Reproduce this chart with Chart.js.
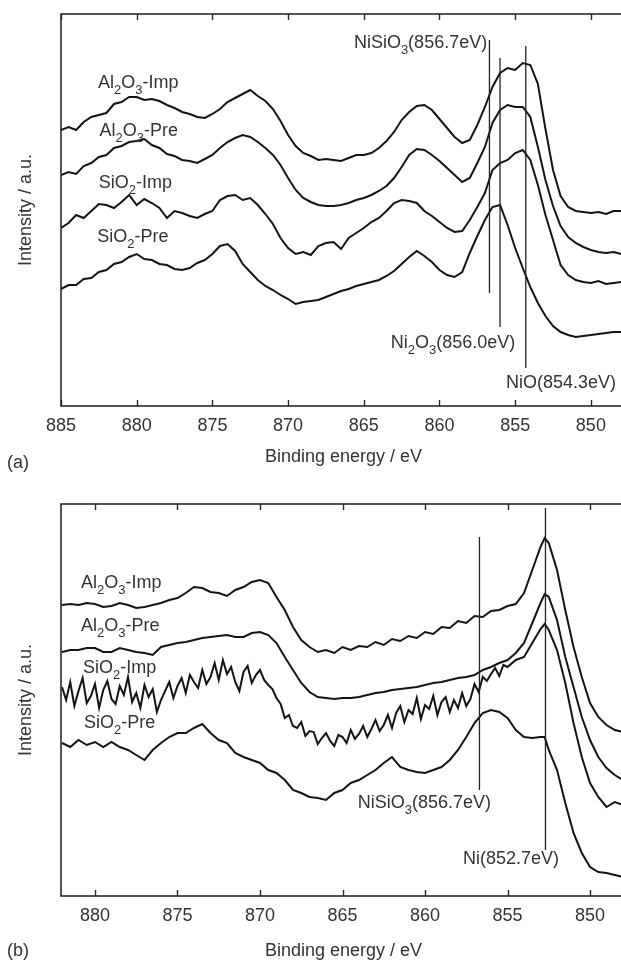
<!DOCTYPE html>
<html><head><meta charset="utf-8">
<script src="https://cdn.jsdelivr.net/npm/chart.js@4"></script>
<style>
html,body{margin:0;padding:0;background:#fff;overflow:hidden;width:621px;height:962px;position:relative;}
.wrap{position:absolute;left:0;}
.tag{position:absolute;font:18px "Liberation Sans",Arial,Helvetica,sans-serif;color:#333;line-height:22px;}
</style></head><body>
<div class="wrap" style="top:0;width:640px;height:470px"><canvas id="ca" width="640" height="470"></canvas></div>
<div class="wrap" style="top:490px;width:640px;height:472px"><canvas id="cb" width="640" height="472"></canvas></div>
<div class="tag" style="left:7px;top:451px">(a)</div>
<div class="tag" style="left:7px;top:939px">(b)</div>
<script>
// ---------------- data ----------------
const seriesNames = ['Al2O3-Imp', 'Al2O3-Pre', 'SiO2-Imp', 'SiO2-Pre'];
const xTitle = 'Binding energy / eV';
const yTitle = 'Intensity / a.u.';
const tickStep = 5;

// Panel (a): binding energy (eV)
const energyA = [885,884.5,884,883.5,883,882.5,882,881.5,881,880.5,
  880,879.5,879,878.5,878,877.5,877,876.5,876,875.5,
  875,874.5,874,873.5,873,872.5,872,871.5,871,870.5,
  870,869.5,869,868.5,868,867.5,867,866.5,866,865.5,
  865,864.5,864,863.5,863,862.5,862,861.5,861,860.5,
  860,859.5,859,858.5,858,857.5,857,856.5,856,855.5,
  855,854.5,854,853.5,853,852.5,852,851.5,851,850.5,
  850,849.5,849,848.5,848,847.5];
const a_Al2O3_Imp = [276,279,276,284,289,291,293,302,304,309,
  309,306,307,305,301,298,294,292,289,288,
  292,297,304,308,312,316,310,305,297,285,
  271,260,253,250,246,247,246,245,248,251,
  251,253,258,265,274,286,294,300,301,296,
  287,278,269,263,266,281,299,319,333,338,
  336,343,341,322,277,236,210,199,195,194,
  193,194,192,195,195,195];
const a_Al2O3_Pre = [231,234,232,240,243,249,251,258,260,264,
  265,267,261,258,252,250,246,245,243,247,
  251,258,264,268,271,269,264,258,251,241,
  228,216,208,204,201,200,200,201,203,206,
  208,211,215,220,228,239,251,257,256,251,
  245,238,231,224,228,243,259,283,296,301,
  299,299,289,259,226,200,180,169,163,159,
  156,154,153,154,152,153];
const a_SiO2_Imp = [178,183,191,188,195,202,201,198,204,211,
  201,207,203,198,188,195,193,190,188,192,
  195,206,210,211,206,208,201,192,182,168,
  158,152,154,151,160,163,164,157,168,173,
  178,184,188,195,203,206,205,203,195,190,
  184,178,174,175,186,199,213,236,243,246,
  253,256,246,221,191,166,141,131,126,124,
  123,125,122,123,124,124];
const a_SiO2_Pre = [117,121,121,127,128,134,136,142,144,149,
  152,147,146,142,141,137,136,138,143,146,
  152,160,162,155,142,134,126,120,116,111,
  107,102,104,105,106,109,112,115,117,120,
  122,124,126,130,135,142,149,155,150,144,
  136,131,129,134,153,170,186,199,201,181,
  158,138,119,103,90,80,74,71,69,70,
  71,72,73,74,74,74];

// Panel (b): binding energy (eV)
const energyB = [882,881.5,881,880.5,880,879.5,879,878.5,878,877.5,
  877,876.5,876,875.5,875,874.5,874,873.5,873,872.5,
  872,871.5,871,870.5,870,869.5,869,868.5,868,867.5,
  867,866.5,866,865.5,865,864.5,864,863.5,863,862.5,
  862,861.5,861,860.5,860,859.5,859,858.5,858,857.5,
  857,856.5,856,855.5,855,854.5,854,853.5,853,
  852.75,852.5,852,851.5,851,850.5,850,849.5,849,848.5,848,847.5];
const b_Al2O3_Imp = [291,292,291,293,292,289,290,293,291,288,
  289,291,293,296,298,303,309,308,304,303,
  300,306,309,314,316,313,299,286,269,256,
  249,244,246,243,249,246,250,249,254,251,
  257,255,260,258,264,262,269,268,275,273,
  280,279,285,286,290,292,303,326,349,
  358,353,326,286,249,219,193,179,171,166,164,164];
const b_Al2O3_Pre = [244,246,246,248,248,244,244,248,246,244,
  243,241,249,251,253,254,256,258,259,260,
  261,259,259,263,264,261,253,239,226,213,
  204,199,198,197,198,198,199,201,203,204,
  206,207,208,209,211,213,214,216,218,219,
  221,226,229,233,236,243,253,273,293,
  302,299,276,239,209,179,156,139,128,121,116,114];
const b_SiO2_Pre = [153,149,156,151,154,149,154,149,146,141,
  136,146,153,159,163,163,168,172,163,156,
  153,143,139,136,133,126,123,116,106,103,
  99,98,96,103,106,113,116,121,126,133,
  139,129,126,124,123,126,129,136,146,159,
  173,183,186,184,178,166,159,158,159,
  159,146,126,93,63,43,29,24,23,21,19,19];

// Panel (b), SiO2-Imp: noisier trace, read on a finer energy grid
const energyBfine = [882,881.75,881.5,881.25,881,880.75,880.5,880.25,880,879.75,
  879.5,879.25,879,878.75,878.5,878.25,878,877.75,877.5,877.25,
  877,876.75,876.5,876.25,876,875.75,875.5,875.25,875,874.75,
  874.5,874.25,874,873.75,873.5,873.25,873,872.75,872.5,872.25,
  872,871.75,871.5,871.25,871,870.75,870.5,870.25,870,869.75,
  869.5,869.25,869,868.75,868.5,868.25,868,867.75,867.5,867.25,
  867,866.75,866.5,866.25,866,865.75,865.5,865.25,865,864.75,
  864.5,864.25,864,863.75,863.5,863.25,863,862.75,862.5,862.25,
  862,861.75,861.5,861.25,861,860.75,860.5,860.25,860,859.75,
  859.5,859.25,859,858.75,858.5,858.25,858,857.75,857.5,857.25,
  857,856.75,856.5,856.25,856,855.75,855.5,855.25,
  855,854.5,854,853.5,853,852.75,852.5,852,851.5,851,
  850.5,850,849.5,849,848.5,848,847.5];
const b_SiO2_Imp = [209,196,214,190,205,218,193,200,212,188,
  206,215,197,192,210,201,219,194,203,188,
  211,199,207,184,196,205,214,198,210,218,
  203,221,214,208,226,212,219,233,216,236,
  222,229,214,205,224,230,213,221,226,216,
  211,207,198,192,178,181,170,168,174,160,
  165,164,152,158,163,155,150,161,159,153,
  166,157,162,170,159,167,176,165,171,181,
  168,183,190,174,186,182,198,177,191,187,
  200,181,194,199,184,196,188,203,190,197,
  212,204,219,215,222,228,220,231,
  229,236,239,253,267,272,266,246,213,173,
  139,113,99,89,94,91,93];

// reference peak positions (eV) and their labels
const peaksA = [856.7, 856.0, 854.3];
const peakLabelsA = ['NiSiO3(856.7eV)', 'Ni2O3(856.0eV)', 'NiO(854.3eV)'];
const peaksB = [856.7, 852.7];
const peakLabelsB = ['NiSiO3(856.7eV)', 'Ni(852.7eV)'];

// ---------------- rendering ----------------
const FAM = '"Liberation Sans", Arial, Helvetica, sans-serif';
const TXT = '#333';
Chart.defaults.font.family = FAM;

function segs(str){
  const out = [];
  for (let i = 0; i < str.length; i++){
    const c = str[i];
    const sub = /[0-9]/.test(c) && i > 0 && /[A-Za-z]/.test(str[i-1]);
    if (out.length && out[out.length-1].sub === sub) out[out.length-1].t += c;
    else out.push({t:c, sub});
  }
  return out;
}
function drawRich(ctx, text, x, y, align, size){
  const main = size + 'px ' + FAM, subF = Math.round(size*0.72) + 'px ' + FAM;
  const parts = segs(text); let w = 0;
  parts.forEach(p => { ctx.font = p.sub ? subF : main; p.w = ctx.measureText(p.t).width; w += p.w; });
  let cx = align === 'right' ? x - w : x;
  const base = y + size*0.36;
  ctx.textBaseline = 'alphabetic'; ctx.textAlign = 'left'; ctx.fillStyle = TXT;
  parts.forEach(p => { ctx.font = p.sub ? subF : main; ctx.fillText(p.t, cx, p.sub ? base + size*0.3 : base); cx += p.w; });
}

const notesPlugin = {
  id: 'notes',
  afterDatasetsDraw(chart, args, opts){
    const {ctx, chartArea: ca, scales: {x, y}} = chart;
    ctx.save();
    ctx.strokeStyle = '#2a2a2a'; ctx.lineWidth = 1.6;
    ctx.strokeRect(ca.left, ca.top, ca.right - ca.left, ca.bottom - ca.top);
    ctx.lineWidth = 1.4;
    x.ticks.forEach(t => {
      const px = Math.round(x.getPixelForValue(t.value)) + 0.5;
      ctx.beginPath();
      ctx.moveTo(px, ca.bottom); ctx.lineTo(px, ca.bottom - 6);
      ctx.moveTo(px, ca.top); ctx.lineTo(px, ca.top + 6);
      ctx.stroke();
    });
    ctx.strokeStyle = '#222'; ctx.lineWidth = 1.3;
    opts.lines.forEach(l => {
      const px = x.getPixelForValue(l.eV);
      ctx.beginPath();
      ctx.moveTo(px, y.getPixelForValue(l.from));
      ctx.lineTo(px, y.getPixelForValue(l.to));
      ctx.stroke();
    });
    opts.texts.forEach(t => drawRich(ctx, t.text, x.getPixelForValue(t.eV), y.getPixelForValue(t.i), t.align, 18));
    ctx.restore();
  }
};

function makeChart(id, series, xmin, xmax, xHeight, titlePad, notes){
  const datasets = series.map((s, k) => ({
    label: seriesNames[k],
    data: s.e.map((e, i) => ({x: e, y: s.v[i]})),
    borderColor: '#141414', borderWidth: 2, pointRadius: 0, fill: false, tension: 0
  }));
  return new Chart(document.getElementById(id), {
    type: 'line',
    data: {datasets},
    options: {
      responsive: false, animation: false,
      layout: {padding: {left: 0, right: 14, top: 14, bottom: 0}},
      plugins: {legend: {display: false}, tooltip: {enabled: false}, notes},
      scales: {
        x: {
          type: 'linear', reverse: true, min: xmin, max: xmax,
          grid: {display: false, drawTicks: false}, border: {display: false},
          ticks: {stepSize: tickStep, includeBounds: false, autoSkip: false, maxRotation: 0,
                  color: TXT, font: {size: 18}, padding: 9, callback: v => String(v)},
          title: {display: true, text: xTitle, color: TXT, font: {size: 18}, padding: {top: 0, bottom: titlePad}},
          afterFit(s){ s.height = xHeight; }
        },
        y: {
          min: 0, max: 392,
          grid: {display: false, drawTicks: false}, border: {display: false},
          ticks: {display: false},
          title: {display: true, text: yTitle, color: TXT, font: {size: 18}, padding: {top: 15, bottom: 0}},
          afterFit(s){ s.width = 61; }
        }
      }
    },
    plugins: [notesPlugin]
  });
}

makeChart('ca', [
  {e: energyA, v: a_Al2O3_Imp}, {e: energyA, v: a_Al2O3_Pre},
  {e: energyA, v: a_SiO2_Imp}, {e: energyA, v: a_SiO2_Pre}
], 847.68, 885, 64, 2, {
  lines: [
    {eV: peaksA[0], from: 113, to: 366},
    {eV: peaksA[1], from: 79, to: 348},
    {eV: peaksA[2], from: 38, to: 360}
  ],
  texts: [
    {text: seriesNames[0], eV: 882.55, i: 324, align: 'left'},
    {text: seriesNames[1], eV: 882.45, i: 276, align: 'left'},
    {text: seriesNames[2], eV: 882.5, i: 224, align: 'left'},
    {text: seriesNames[3], eV: 882.6, i: 170, align: 'left'},
    {text: peakLabelsA[0], eV: 856.85, i: 364, align: 'right'},
    {text: peakLabelsA[1], eV: 855.0, i: 64, align: 'right'},
    {text: peakLabelsA[2], eV: 848.34, i: 24, align: 'right'}
  ]
});

makeChart('cb', [
  {e: energyB, v: b_Al2O3_Imp}, {e: energyB, v: b_Al2O3_Pre},
  {e: energyBfine, v: b_SiO2_Imp}, {e: energyB, v: b_SiO2_Pre}
], 847.82, 882.06, 66, 0, {
  lines: [
    {eV: peaksB[0], from: 106, to: 359},
    {eV: peaksB[1], from: 46, to: 388}
  ],
  texts: [
    {text: seriesNames[0], eV: 880.85, i: 314, align: 'left'},
    {text: seriesNames[1], eV: 880.85, i: 271, align: 'left'},
    {text: seriesNames[2], eV: 880.73, i: 229, align: 'left'},
    {text: seriesNames[3], eV: 880.67, i: 174, align: 'left'},
    {text: peakLabelsB[0], eV: 856.0, i: 94, align: 'right'},
    {text: peakLabelsB[1], eV: 851.88, i: 38, align: 'right'}
  ]
});
</script>
</body></html>
